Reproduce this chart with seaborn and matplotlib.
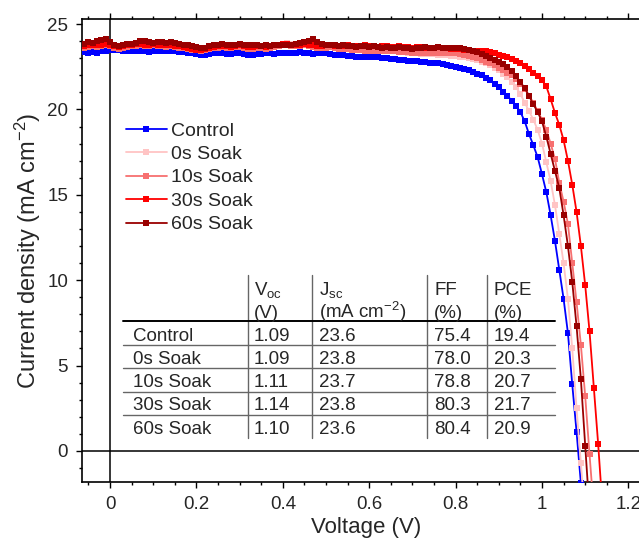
import numpy as np
import matplotlib
matplotlib.use("Agg")
import matplotlib.pyplot as plt
from matplotlib.lines import Line2D
from matplotlib.ticker import MultipleLocator
import seaborn as sns

# J-V sweep, 10 mV steps starting at -0.06 V
volt = np.round(np.arange(-0.06, 1.145, 0.01), 2)

names = ['Control', '0s Soak', '10s Soak', '30s Soak', '60s Soak']
colors = ['#0000FF', '#FFC4C4', '#F77070', '#FF0000', '#9A0000']

j_control = [23.35, 23.3, 23.35, 23.3, 23.4, 23.45, 23.5, 23.5, 23.5, 23.45,
             23.45, 23.4, 23.4, 23.45, 23.4, 23.35, 23.4, 23.4, 23.45, 23.45,
             23.4, 23.4, 23.35, 23.35, 23.3, 23.3, 23.25, 23.2, 23.2, 23.25,
             23.3, 23.3, 23.3, 23.25, 23.25, 23.3, 23.3, 23.25, 23.2, 23.2,
             23.25, 23.25, 23.3, 23.3, 23.25, 23.3, 23.3, 23.3, 23.3, 23.3,
             23.35, 23.3, 23.3, 23.25, 23.3, 23.3, 23.3, 23.25, 23.2, 23.2,
             23.2, 23.15, 23.15, 23.1, 23.1, 23.1, 23.1, 23.05, 23.05, 23.0,
             23.0, 22.95, 22.95, 22.9, 22.9, 22.85, 22.85, 22.85, 22.8, 22.8,
             22.75, 22.75, 22.7, 22.65, 22.6, 22.55,
             22.5, 22.45, 22.4, 22.3, 22.2, 22.1, 22.0, 21.85, 21.7, 21.5,
             21.3, 21.05, 20.8, 20.5, 20.2, 19.85, 19.3, 18.55, 17.9, 17.2,
             16.2, 15.15, 13.8, 12.3, 10.6, 8.9, 6.9, 3.9, 1.1, -1.9]

j_0s = [23.8, 23.75, 23.8, 23.85, 23.8, 23.75, 23.7, 23.65, 23.7, 23.75,
        23.8, 23.8, 23.85, 23.8, 23.8, 23.75, 23.8, 23.85, 23.8, 23.8,
        23.75, 23.75, 23.7, 23.7, 23.65, 23.6, 23.6, 23.55, 23.6, 23.65,
        23.7, 23.75, 23.7, 23.7, 23.65, 23.7, 23.75, 23.7, 23.65, 23.65,
        23.7, 23.7, 23.65, 23.7, 23.75, 23.8, 23.85, 23.9, 23.85, 23.8,
        23.85, 23.9, 23.85, 23.75, 23.7, 23.7, 23.65, 23.7, 23.65, 23.6,
        23.6, 23.6, 23.55, 23.55, 23.5, 23.5, 23.5, 23.45, 23.45, 23.45,
        23.4, 23.4, 23.4, 23.35, 23.35, 23.3, 23.3, 23.3, 23.25, 23.25,
        23.25, 23.25, 23.2, 23.2, 23.2, 23.15,
        23.15, 23.1, 23.05, 23.0, 22.95, 22.9, 22.8, 22.7, 22.6, 22.45,
        22.3, 22.1, 21.9, 21.6, 21.3, 20.9, 20.4, 19.9, 19.4, 18.8,
        18.0, 16.9, 15.8, 14.4, 12.7, 11.0, 8.9, 6.0, 2.5, -0.7, -4.0]

j_10s = [23.6, 23.65, 23.7, 23.65, 23.7, 23.75, 23.7, 23.6, 23.55, 23.6,
         23.65, 23.7, 23.7, 23.75, 23.7, 23.7, 23.75, 23.7, 23.7, 23.65,
         23.7, 23.65, 23.6, 23.6, 23.55, 23.5, 23.5, 23.45, 23.5, 23.55,
         23.6, 23.6, 23.65, 23.6, 23.6, 23.65, 23.65, 23.6, 23.55, 23.55,
         23.6, 23.6, 23.55, 23.6, 23.65, 23.7, 23.75, 23.75, 23.7, 23.7,
         23.7, 23.75, 23.7, 23.65, 23.6, 23.6, 23.6, 23.65, 23.6, 23.55,
         23.55, 23.55, 23.5, 23.5, 23.5, 23.45, 23.45, 23.45, 23.4, 23.4,
         23.4, 23.4, 23.4, 23.35, 23.35, 23.35, 23.3, 23.3, 23.3, 23.3,
         23.3, 23.3, 23.3, 23.3, 23.3, 23.3,
         23.3, 23.25, 23.2, 23.15, 23.05, 23.0, 22.9, 22.8, 22.7, 22.6,
         22.45, 22.3, 22.15, 22.0, 21.8, 21.5, 21.2, 20.8, 20.4, 19.9,
         19.4, 18.8, 18.0, 17.1, 15.7, 14.6, 13.3, 11.0, 8.7, 6.2,
         3.2, -0.2, -3.5]

j_30s = [23.7, 23.75, 23.8, 23.75, 23.8, 23.85, 23.8, 23.7, 23.65, 23.7,
         23.75, 23.8, 23.85, 23.85, 23.8, 23.8, 23.85, 23.8, 23.8, 23.75,
         23.75, 23.7, 23.7, 23.65, 23.6, 23.55, 23.5, 23.5, 23.55, 23.6,
         23.65, 23.7, 23.7, 23.7, 23.65, 23.7, 23.75, 23.7, 23.65, 23.65,
         23.7, 23.7, 23.65, 23.7, 23.75, 23.8, 23.85, 23.85, 23.8, 23.8,
         23.8, 23.85, 23.8, 23.75, 23.7, 23.7, 23.75, 23.75, 23.7, 23.7,
         23.7, 23.75, 23.7, 23.7, 23.7, 23.75, 23.7, 23.7, 23.65, 23.7,
         23.7, 23.65, 23.65, 23.7, 23.65, 23.65, 23.6, 23.65, 23.65, 23.6,
         23.6, 23.6, 23.65, 23.6, 23.6, 23.55,
         23.55, 23.55, 23.5, 23.5, 23.45, 23.45, 23.4, 23.4, 23.35, 23.3,
         23.2, 23.15, 23.05, 22.95, 22.85, 22.7, 22.55, 22.35, 22.15, 21.95,
         21.7, 21.35, 20.6, 19.8, 19.1, 18.2, 17.0, 15.6, 14.0, 12.0,
         9.7, 7.0, 3.7, 0.4, -3.3]

j_60s = [23.85, 23.95, 23.9, 24.0, 24.05, 24.1, 23.95, 23.8, 23.7, 23.8,
         23.85, 23.85, 23.9, 24.0, 24.0, 23.95, 23.9, 23.95, 23.95, 23.9,
         23.95, 23.9, 23.85, 23.8, 23.75, 23.7, 23.65, 23.6, 23.6, 23.7,
         23.75, 23.8, 23.85, 23.8, 23.75, 23.8, 23.85, 23.8, 23.75, 23.8,
         23.75, 23.7, 23.75, 23.7, 23.75, 23.75, 23.75, 23.8, 23.8, 23.85,
         23.9, 23.95, 24.0, 24.1, 23.95, 23.85, 23.8, 23.8, 23.75, 23.7,
         23.75, 23.7, 23.7, 23.65, 23.7, 23.7, 23.65, 23.7, 23.65, 23.6,
         23.65, 23.6, 23.6, 23.65, 23.6, 23.6, 23.55, 23.6, 23.6, 23.65,
         23.6, 23.6, 23.65, 23.6, 23.6, 23.6,
         23.6, 23.6, 23.55, 23.5, 23.45, 23.35, 23.25, 23.15, 23.0, 22.9,
         22.8, 22.65, 22.5, 22.25, 21.95, 21.6, 21.25, 20.8, 20.3, 19.85,
         19.3, 18.4, 17.4, 16.4, 15.4, 13.8, 12.0, 9.9, 7.3, 4.2,
         0.3, -3.5]

curves = [j_control, j_0s, j_10s, j_30s, j_60s]

# table values
voc = ['1.09', '1.09', '1.11', '1.14', '1.10']
jsc = ['23.6', '23.8', '23.7', '23.8', '23.6']
ff = ['75.4', '78.0', '78.8', '80.3', '80.4']
pce = ['19.4', '20.3', '20.7', '21.7', '20.9']

sns.set_style('ticks')
plt.rcParams['font.family'] = ['Liberation Sans', 'DejaVu Sans']
plt.rcParams['mathtext.default'] = 'regular'

W, H = 639, 543
fig = plt.figure(figsize=(W / 100, H / 100), dpi=100)
ax = fig.add_axes([82 / W, 1 - 482 / H, (650 - 82) / W, (482 - 19) / H])

ax.axhline(0, color='black', lw=1.1, zorder=1)
ax.axvline(0, color='black', lw=1.1, zorder=1)

for name, c, j in zip(names, colors, curves):
    sns.lineplot(x=volt[:len(j)], y=j, color=c, marker='s', markersize=3.9,
                 markeredgewidth=0, markeredgecolor=c, lw=1.3, label=name,
                 sort=False, estimator=None, ax=ax, zorder=3)

ax.set_xlim(-0.065, 1.25)
ax.set_ylim(-1.82, 25.3)
ax.xaxis.set_minor_locator(MultipleLocator(0.05))
ax.yaxis.set_major_locator(MultipleLocator(5))
ax.yaxis.set_minor_locator(MultipleLocator(1))
ax.set_xticks([0, 0.2, 0.4, 0.6, 0.8, 1.0, 1.2])
ax.set_xticklabels(['0', '0.2', '0.4', '0.6', '0.8', '1', '1.2'])
ax.tick_params(which='both', direction='out', top=True, width=1.0,
               color='black', labelsize=13.5, pad=6)
ax.tick_params(which='major', length=4)
ax.tick_params(which='minor', length=2.2)
for s in ['left', 'bottom', 'top', 'right']:
    ax.spines[s].set_color('black')
    ax.spines[s].set_linewidth(1.2)

ax.set_xlabel('Voltage (V)', fontsize=16, labelpad=3)
ax.set_ylabel('Current density (mA cm$^{-2}$)', fontsize=17, labelpad=3)

ax.legend(loc='upper left', bbox_to_anchor=((126 - 82) / 568, (482 - 122) / 463),
          frameon=False, fontsize=14, handlelength=2.1, handletextpad=0.2,
          labelspacing=0.3, borderaxespad=0, borderpad=0)


def px(x, y):
    return x / W, 1 - y / H


# table
grey = '#666666'
for x in [248, 312, 427, 487]:
    fig.add_artist(Line2D(*zip(px(x, 275), px(x, 438)), color=grey, lw=1.0))
fig.add_artist(Line2D(*zip(px(123, 321), px(555, 321)), color='black', lw=1.4))
for y in [345, 368, 392, 415]:
    fig.add_artist(Line2D(*zip(px(123, y), px(555, y)), color=grey, lw=1.0))

tfs = 13.5
heads = [('V$_{oc}$', '(V)'), ('J$_{sc}$', '(mA cm$^{-2}$)'),
         ('FF', '(%)'), ('PCE', '(%)')]
col_x = [254, 319, 434, 494]
for cx, (h1, h2) in zip(col_x, heads):
    fig.text(*px(cx, 295), h1, fontsize=tfs, va='baseline', ha='left')
    fig.text(*px(cx, 318), h2, fontsize=tfs, va='baseline', ha='left')

row_y = [341, 364, 387, 410, 434]
for i, ry in enumerate(row_y):
    fig.text(*px(133, ry), names[i], fontsize=tfs, va='baseline')
    for cx, vals in zip(col_x, [voc, jsc, ff, pce]):
        fig.text(*px(cx, ry), vals[i], fontsize=tfs, va='baseline')

fig.savefig('out.png', dpi=100)
